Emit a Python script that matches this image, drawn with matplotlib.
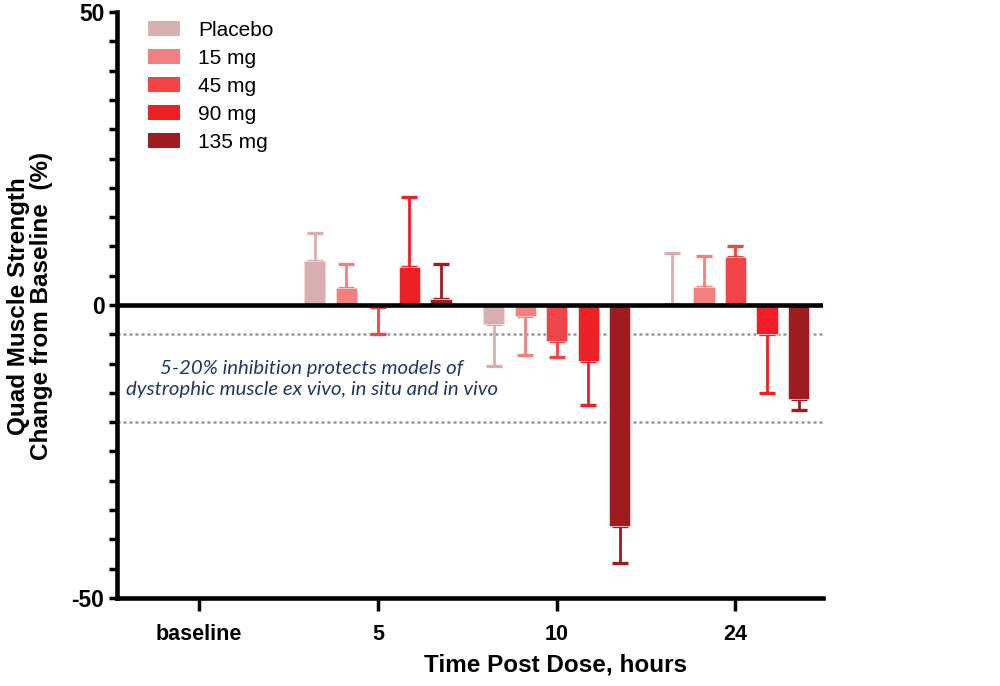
import numpy as np
import matplotlib
matplotlib.use("Agg")
import matplotlib.pyplot as plt
from matplotlib.patches import Patch

groups = ["baseline", "5", "10", "24"]
series = ["Placebo", "15 mg", "45 mg", "90 mg", "135 mg"]
colors = ["#D8AFAF", "#F47F80", "#EF4448", "#EE1F25", "#9E1B20"]

placebo = [0.0, 7.5, -3.3, 0.2]
placebo_err = [0.0, 4.8, 7.1, 8.6]
mg15 = [0.0, 2.9, -1.9, 3.1]
mg15_err = [0.0, 4.1, 6.6, 5.2]
mg45 = [0.0, -0.4, -6.2, 8.2]
mg45_err = [0.0, 4.5, 2.6, 1.9]
mg90 = [0.0, 6.4, -9.6, -4.9]
mg90_err = [0.0, 12.1, 7.4, 10.1]
mg135 = [0.0, 1.1, -37.8, -16.1]
mg135_err = [0.0, 5.9, 6.2, 1.9]

values = [placebo, mg15, mg45, mg90, mg135]
errors = [placebo_err, mg15_err, mg45_err, mg90_err, mg135_err]

ref_lines = [-5, -20]
yticks = [-50, 0, 50]
ytick_labels = ["-50", "0", "50"]
note = "5-20% inhibition protects models of\ndystrophic muscle ex vivo, in situ and in vivo"

plt.rcParams['font.family'] = ['Liberation Sans', 'DejaVu Sans']

fig = plt.figure(figsize=(10, 6.86), dpi=100)
ax = fig.add_axes([0.117, 0.1283, 0.706, 0.8542])

x = np.arange(len(groups))
step = 0.1765
width = 0.119

for i, (vals, errs, c) in enumerate(zip(values, errors, colors)):
    pos = x + (i - 2) * step
    vals = np.array(vals)
    errs = np.array(errs)
    ax.bar(pos, vals, width=width, color=c, edgecolor="#F6D6D6", linewidth=0.6, zorder=3)
    mask = errs > 0
    lower = np.where(vals < 0, errs, 0)
    upper = np.where(vals >= 0, errs, 0)
    ax.errorbar(pos[mask], vals[mask], yerr=[lower[mask], upper[mask]], fmt='none',
                ecolor=c, elinewidth=2.0, capsize=5.5, capthick=2.4, zorder=2)

for yv in ref_lines:
    ax.axhline(yv, color="#999999", linestyle=(0, (1.2, 1.2)), linewidth=1.8, zorder=1)

ax.axhline(0, color="black", linewidth=3.3, zorder=4)

ax.set_xlim(-0.46, 3.49)
ax.set_ylim(-50, 50)

for s in ["top", "right"]:
    ax.spines[s].set_visible(False)
for s in ["left", "bottom"]:
    ax.spines[s].set_linewidth(3.3)

ax.set_yticks(yticks)
ax.set_yticklabels(ytick_labels, fontweight='bold')
ax.set_yticks(np.arange(-50, 51, 5), minor=True)
ax.tick_params(axis='y', which='both', length=6, width=2.5, labelsize=16.5, pad=3)
ax.tick_params(axis='x', which='both', length=9, width=2.5, labelsize=15.5, pad=10)
ax.set_xticks(x)
ax.set_xticklabels(groups, fontweight='bold')

fig.text(0.556, 1 - 665 / 686, "Time Post Dose, hours", ha='center', va='center',
         fontsize=17.5, fontweight='bold')
fig.text(0.030, 1 - 306 / 686, "Quad Muscle Strength\nChange from Baseline  (%)", rotation=90,
         ha='center', va='center', fontsize=17.5, fontweight='bold', multialignment='center',
         linespacing=1.05)

fig.text(0.312, 1 - 379 / 686, note, ha='center', va='center',
         fontsize=14.7, style='italic', color="#1F3864", family=['Lato', 'DejaVu Sans'],
         linespacing=1.25)

handles = [Patch(facecolor=c, edgecolor='none') for c in colors]
fig.legend(handles, series, loc='upper left', bbox_to_anchor=(0.148, 1 - 20.5 / 686),
           frameon=False, fontsize=15, handlelength=1.54, handleheight=0.72,
           handletextpad=0.87, labelspacing=0.44, borderpad=0, borderaxespad=0)

fig.savefig("out.png", dpi=100)
